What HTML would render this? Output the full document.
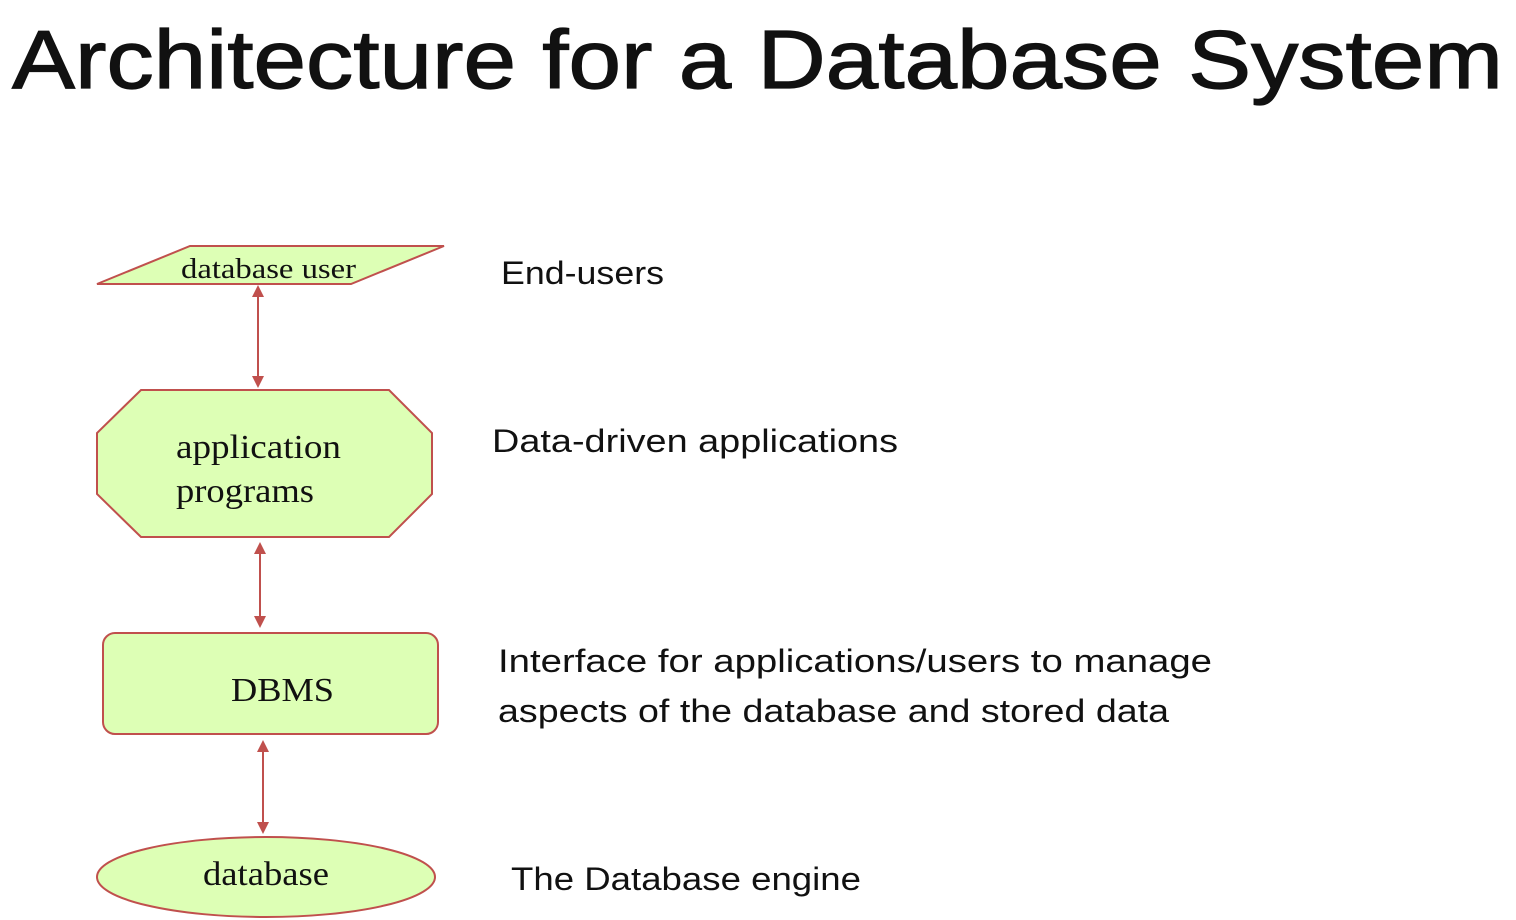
<!DOCTYPE html>
<html><head><meta charset="utf-8"><style>
html,body{margin:0;padding:0;background:#fff;width:1516px;height:920px;overflow:hidden}
</style></head><body>
<svg width="1516" height="920" viewBox="0 0 1516 920" xmlns="http://www.w3.org/2000/svg">
<text x="12" y="88" font-family="Liberation Sans, sans-serif" font-size="83" fill="#111" stroke="#111" stroke-width="1.2" textLength="1491" lengthAdjust="spacingAndGlyphs">Architecture for a Database System</text>

<polygon points="97,284 190,246 444,246 351,284" fill="#ddffb5" stroke="#c0504d" stroke-width="2"/>
<polygon points="141,390 389,390 432,433 432,494 389,537 141,537 97,494 97,433" fill="#ddffb5" stroke="#c0504d" stroke-width="2"/>
<rect x="103" y="633" width="335" height="101" rx="12" fill="#ddffb5" stroke="#c0504d" stroke-width="2"/>
<ellipse cx="266" cy="877" rx="169" ry="40" fill="#ddffb5" stroke="#c0504d" stroke-width="2"/>

<g stroke="#c0504d" stroke-width="2">
<line x1="258" y1="294" x2="258" y2="378"/>
<line x1="260" y1="552" x2="260" y2="618"/>
<line x1="263" y1="750" x2="263" y2="823"/>
</g>
<g fill="#c0504d">
<polygon points="258,285 252,297 264,297"/>
<polygon points="258,388 252,376 264,376"/>
<polygon points="260,542 254,554 266,554"/>
<polygon points="260,628 254,616 266,616"/>
<polygon points="263,740 257,752 269,752"/>
<polygon points="263,834 257,822 269,822"/>
</g>

<g font-family="Liberation Serif, serif" fill="#111">
<text x="181" y="278" font-size="28" textLength="175" lengthAdjust="spacingAndGlyphs">database user</text>
<text x="176" y="458" font-size="34" textLength="165" lengthAdjust="spacingAndGlyphs">application</text>
<text x="176" y="502" font-size="34" textLength="138" lengthAdjust="spacingAndGlyphs">programs</text>
<text x="231" y="701" font-size="34" textLength="103" lengthAdjust="spacingAndGlyphs">DBMS</text>
<text x="203" y="885" font-size="34" textLength="126" lengthAdjust="spacingAndGlyphs">database</text>
</g>

<g font-family="Liberation Sans, sans-serif" fill="#111" font-size="32">
<text x="501" y="284" textLength="163" lengthAdjust="spacingAndGlyphs">End-users</text>
<text x="492" y="452" textLength="406" lengthAdjust="spacingAndGlyphs">Data-driven applications</text>
<text x="498" y="672" textLength="714" lengthAdjust="spacingAndGlyphs">Interface for applications/users to manage</text>
<text x="498" y="722" textLength="671" lengthAdjust="spacingAndGlyphs">aspects of the database and stored data</text>
<text x="511" y="890" textLength="350" lengthAdjust="spacingAndGlyphs">The Database engine</text>
</g>
</svg>
</body></html>
